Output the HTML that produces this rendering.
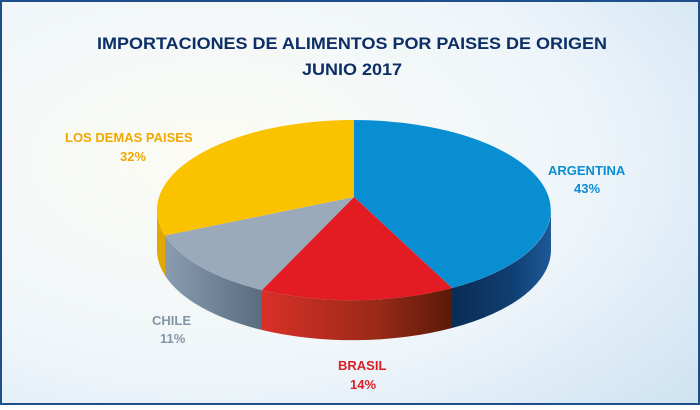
<!DOCTYPE html>
<html><head><meta charset="utf-8"><style>html,body{margin:0;padding:0}body{width:700px;height:405px;overflow:hidden}</style></head><body>
<svg width="700" height="405" viewBox="0 0 700 405" xmlns="http://www.w3.org/2000/svg" font-family="Liberation Sans, sans-serif" font-weight="bold">
<defs>
<radialGradient id="bg" cx="0.3" cy="0.4" r="0.9">
<stop offset="0" stop-color="#fdfcf4"/><stop offset="0.6" stop-color="#eef5fa"/><stop offset="1" stop-color="#cfe3f2"/></radialGradient>
<linearGradient id="bs" x1="0" x2="1"><stop offset="0" stop-color="#0a2c55"/><stop offset="0.6" stop-color="#103e72"/><stop offset="1" stop-color="#1c5a98"/></linearGradient>
<linearGradient id="rs" x1="0" x2="1"><stop offset="0" stop-color="#d83028"/><stop offset="0.6" stop-color="#9a2a18"/><stop offset="1" stop-color="#5a1a08"/></linearGradient>
<linearGradient id="gs" x1="0" x2="1"><stop offset="0" stop-color="#8a9cb0"/><stop offset="1" stop-color="#5a6c80"/></linearGradient>
</defs>
<rect x="0" y="0" width="700" height="405" fill="url(#bg)"/>
<rect x="1" y="1" width="698" height="403" fill="none" stroke="#1e4f8a" stroke-width="2"/>
<text x="352" y="49" text-anchor="middle" font-size="17" fill="#0d2f66" textLength="510" lengthAdjust="spacingAndGlyphs">IMPORTACIONES DE ALIMENTOS POR  PAISES DE ORIGEN</text>
<text x="352" y="75" text-anchor="middle" font-size="17" fill="#0d2f66" textLength="100" lengthAdjust="spacingAndGlyphs">JUNIO 2017</text>
<!-- sides -->
<path d="M157,210 A197 90 0 0 0 165,235.5 L165,275.5 A197 90 0 0 1 157,250 Z" fill="#e0a800"/>
<path d="M165,235.5 A197 90 0 0 0 262,290 L262,330 A197 90 0 0 1 165,275.5 Z" fill="url(#gs)"/>
<path d="M262,290 A197 90 0 0 0 452,288 L452,328 A197 90 0 0 1 262,330 Z" fill="url(#rs)"/>
<path d="M452,288 A197 90 0 0 0 551,210 L551,250 A197 90 0 0 1 452,328 Z" fill="url(#bs)"/>
<!-- tops -->
<path d="M354,197 L354,120 A197 90 0 0 1 452,288 Z" fill="#0a8ed2"/>
<path d="M354,197 L452,288 A197 90 0 0 1 262,290 Z" fill="#e31b23"/>
<path d="M354,197 L262,290 A197 90 0 0 1 165,235.5 Z" fill="#9aaaba"/>
<path d="M354,197 L165,235.5 A197 90 0 0 1 354,120 Z" fill="#fbc200"/>
<g font-size="13">
<text x="548" y="175" fill="#0a8ed2">ARGENTINA</text>
<text x="574" y="193" fill="#0a8ed2">43%</text>
<text x="65" y="142" fill="#f0a800">LOS DEMAS PAISES</text>
<text x="120" y="161" fill="#f0a800">32%</text>
<text x="152" y="325" fill="#8595a8">CHILE</text>
<text x="160" y="343" fill="#8595a8">11%</text>
<text x="338" y="370" fill="#d81f26">BRASIL</text>
<text x="350" y="389" fill="#d81f26">14%</text>
</g>
</svg>
</body></html>
